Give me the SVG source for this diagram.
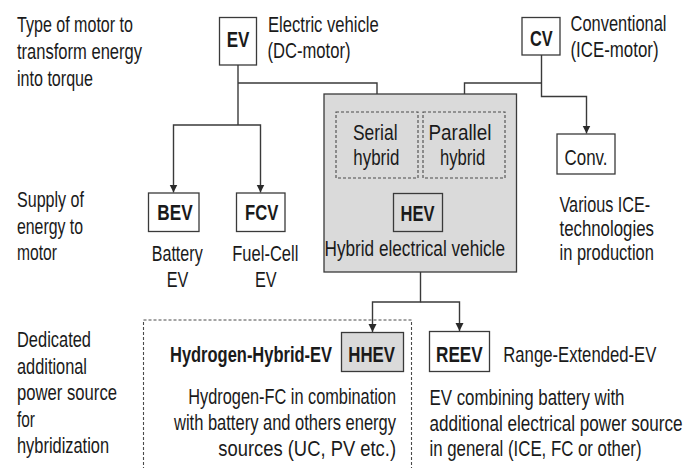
<svg xmlns="http://www.w3.org/2000/svg" width="684" height="468" viewBox="0 0 684 468">
<style>
text{font-family:"Liberation Sans",Arial,sans-serif;font-size:22px;fill:#1a1a1a}
.b{font-weight:bold}
.box{fill:#fff;stroke:#3a3a3a;stroke-width:1.3}
.gbox{fill:#dadada;stroke:#3a3a3a;stroke-width:1.3}
.dash{fill:none;stroke:#4a4a4a;stroke-width:1.1;stroke-dasharray:3 2}
.con path{fill:none;stroke:#3a3a3a;stroke-width:1.4}
</style>
<defs>
<marker id="arr" markerUnits="userSpaceOnUse" markerWidth="8" markerHeight="9" refX="8" refY="4" orient="auto">
<path d="M0,0 L8,4 L0,8 z" fill="#2a2a2a"/>
</marker>
</defs>
<rect width="684" height="468" fill="#fff"/>

<g id="row-labels">
<text x="17" y="32" textLength="116" lengthAdjust="spacingAndGlyphs">Type of motor to</text>
<text x="17" y="59" textLength="125" lengthAdjust="spacingAndGlyphs">transform energy</text>
<text x="17" y="86" textLength="76" lengthAdjust="spacingAndGlyphs">into torque</text>
<text x="17" y="207" textLength="67" lengthAdjust="spacingAndGlyphs">Supply of</text>
<text x="17" y="233.5" textLength="66" lengthAdjust="spacingAndGlyphs">energy to</text>
<text x="17" y="260" textLength="40" lengthAdjust="spacingAndGlyphs">motor</text>
<text x="17" y="347" textLength="74" lengthAdjust="spacingAndGlyphs">Dedicated</text>
<text x="17" y="373.5" textLength="70" lengthAdjust="spacingAndGlyphs">additional</text>
<text x="17" y="400" textLength="100" lengthAdjust="spacingAndGlyphs">power source</text>
<text x="17" y="426.5" textLength="18" lengthAdjust="spacingAndGlyphs">for</text>
<text x="17" y="453" textLength="92" lengthAdjust="spacingAndGlyphs">hybridization</text>
</g>

<g id="connectors" class="con">
<path d="M238,65 V125"/>
<path d="M238,125 H173.5 V192.5" marker-end="url(#arr)"/>
<path d="M238,125 H260.5 V192.5" marker-end="url(#arr)"/>
<path d="M238,83 H377 V111.5" marker-end="url(#arr)"/>
<path d="M541.5,55 V96.5 H586.5 V133.5" marker-end="url(#arr)"/>
<path d="M541.5,83 H464.5 V111.5" marker-end="url(#arr)"/>
<path d="M420.5,272 V302 H372.5 V332" marker-end="url(#arr)"/>
<path d="M420.5,302 H459.5 V331" marker-end="url(#arr)"/>
</g>

<g id="EV">
<rect class="box" x="219.5" y="17.5" width="37" height="47.5"/>
<text class="b" x="226.7" y="46.5" textLength="22.7" lengthAdjust="spacingAndGlyphs">EV</text>
<text x="268" y="32" textLength="110.7" lengthAdjust="spacingAndGlyphs">Electric vehicle</text>
<text x="267.5" y="58" textLength="83" lengthAdjust="spacingAndGlyphs">(DC-motor)</text>
</g>

<g id="CV">
<rect class="box" x="522" y="17.5" width="38" height="37.5"/>
<text class="b" x="530" y="45.5" textLength="22.7" lengthAdjust="spacingAndGlyphs">CV</text>
<text x="570.5" y="31" textLength="96" lengthAdjust="spacingAndGlyphs">Conventional</text>
<text x="570.5" y="57" textLength="88" lengthAdjust="spacingAndGlyphs">(ICE-motor)</text>
</g>

<g id="Conv">
<rect class="box" x="557" y="134" width="58" height="40"/>
<text x="564.5" y="165" textLength="43" lengthAdjust="spacingAndGlyphs">Conv.</text>
<text x="559.5" y="212" textLength="90.7" lengthAdjust="spacingAndGlyphs">Various ICE-</text>
<text x="559.5" y="236" textLength="94.4" lengthAdjust="spacingAndGlyphs">technologies</text>
<text x="559.5" y="260" textLength="94.4" lengthAdjust="spacingAndGlyphs">in production</text>
</g>

<g id="BEV">
<rect class="box" x="148.5" y="193" width="50.5" height="38.5"/>
<text class="b" x="157.3" y="219.5" textLength="35.3" lengthAdjust="spacingAndGlyphs">BEV</text>
<text x="151.7" y="261" textLength="51" lengthAdjust="spacingAndGlyphs">Battery</text>
<text x="166.7" y="287" textLength="21.6" lengthAdjust="spacingAndGlyphs">EV</text>
</g>

<g id="FCV">
<rect class="box" x="236.5" y="193" width="48.5" height="38.5"/>
<text class="b" x="245" y="219.5" textLength="33.3" lengthAdjust="spacingAndGlyphs">FCV</text>
<text x="232.3" y="261" textLength="66" lengthAdjust="spacingAndGlyphs">Fuel-Cell</text>
<text x="255" y="287" textLength="21.7" lengthAdjust="spacingAndGlyphs">EV</text>
</g>

<g id="HEV">
<rect class="gbox" x="324" y="94" width="192.5" height="178"/>
<rect class="dash" x="336" y="112" width="82" height="66"/>
<rect class="dash" x="423" y="112" width="82" height="66"/>
<text x="353" y="139.5" textLength="44.5" lengthAdjust="spacingAndGlyphs">Serial</text>
<text x="353.3" y="165" textLength="46" lengthAdjust="spacingAndGlyphs">hybrid</text>
<text x="428.5" y="139.5" textLength="63" lengthAdjust="spacingAndGlyphs">Parallel</text>
<text x="440" y="165" textLength="45.3" lengthAdjust="spacingAndGlyphs">hybrid</text>
<rect class="gbox" x="393.5" y="193.5" width="49" height="38"/>
<text class="b" x="400.5" y="220.5" textLength="34" lengthAdjust="spacingAndGlyphs">HEV</text>
<text x="324.5" y="256" textLength="180.5" lengthAdjust="spacingAndGlyphs">Hybrid electrical vehicle</text>
</g>

<g id="HHEV">
<path class="dash" d="M143.5,470 V320 H411.5 V470"/>
<text class="b" x="170" y="361.5" textLength="162" lengthAdjust="spacingAndGlyphs">Hydrogen-Hybrid-EV</text>
<rect class="gbox" x="341.5" y="332.5" width="62" height="39"/>
<text class="b" x="348.3" y="361.5" textLength="46.7" lengthAdjust="spacingAndGlyphs">HHEV</text>
<text x="188.3" y="404" textLength="207.7" lengthAdjust="spacingAndGlyphs">Hydrogen-FC in combination</text>
<text x="174" y="430" textLength="222" lengthAdjust="spacingAndGlyphs">with battery and others energy</text>
<text x="218.3" y="456" textLength="177.7" lengthAdjust="spacingAndGlyphs">sources (UC, PV etc.)</text>
</g>

<g id="REEV">
<rect class="box" x="429.5" y="331.5" width="60" height="40"/>
<text class="b" x="436" y="361.5" textLength="46.7" lengthAdjust="spacingAndGlyphs">REEV</text>
<text x="503.3" y="361.5" textLength="153" lengthAdjust="spacingAndGlyphs">Range-Extended-EV</text>
<text x="429.5" y="405" textLength="195" lengthAdjust="spacingAndGlyphs">EV combining battery with</text>
<text x="429.5" y="430.5" textLength="253" lengthAdjust="spacingAndGlyphs">additional electrical power source</text>
<text x="429.5" y="456" textLength="212" lengthAdjust="spacingAndGlyphs">in general (ICE, FC or other)</text>
</g>
</svg>
